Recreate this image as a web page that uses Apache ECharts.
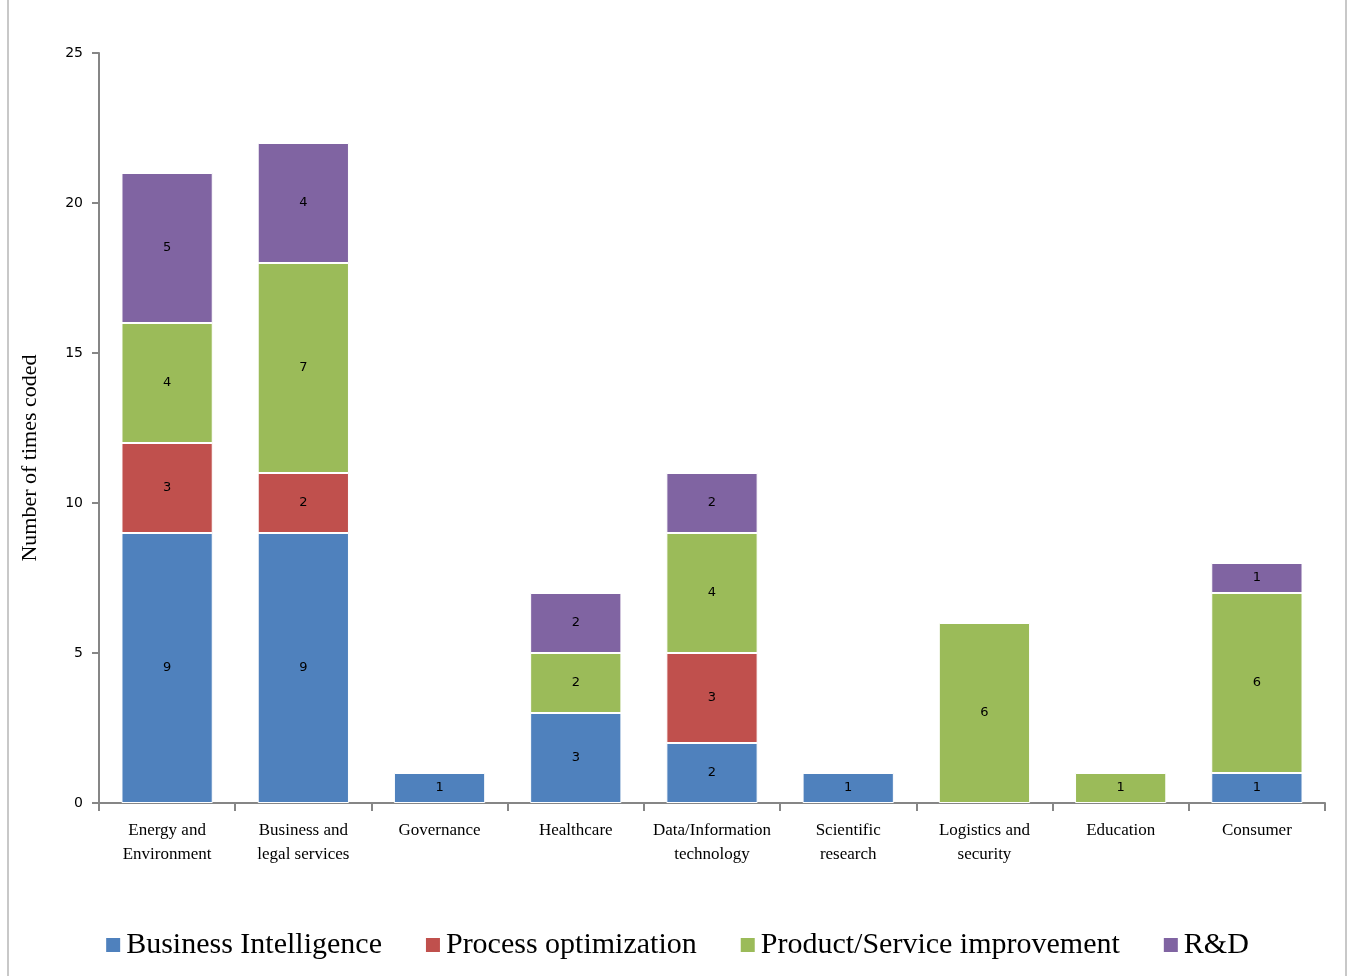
<!DOCTYPE html>
<html>
<head>
<meta charset="utf-8">
<script src="https://cdn.jsdelivr.net/npm/echarts@6/dist/echarts.min.js"></script>
<style>
  html, body { margin: 0; padding: 0; background: #fff; }
  #chart { width: 1353px; height: 976px; }
</style>
</head>
<body>
<div id="chart"></div>
<script>
// Application domains and how often each analytics purpose was coded
const categories = [
  'Energy and\nEnvironment',
  'Business and\nlegal services',
  'Governance',
  'Healthcare',
  'Data/Information\ntechnology',
  'Scientific\nresearch',
  'Logistics and\nsecurity',
  'Education',
  'Consumer'
];
const businessIntelligence = [9, 9, 1, 3, 2, 1, null, null, 1];
const processOptimization  = [3, 2, null, null, 3, null, null, null, null];
const productService       = [4, 7, null, 2, 4, null, 6, 1, 6];
const researchDevelopment  = [5, 4, null, 2, 2, null, null, null, 1];
const yTicks = { min: 0, max: 25, interval: 5 };

const serif = '"Liberation Serif", "DejaVu Serif", serif';
const sans = '"DejaVu Sans", "Liberation Sans", sans-serif';

function makeSeries(name, data, color) {
  return {
    name: name,
    type: 'bar',
    stack: 'total',
    barWidth: '67%',
    data: data,
    itemStyle: { color: color, borderColor: '#ffffff', borderWidth: 1 },
    label: {
      show: true,
      position: 'inside',
      color: '#000',
      fontFamily: sans,
      fontSize: 13,
      formatter: p => (p.value ? String(p.value) : '')
    }
  };
}

const chart = echarts.init(document.getElementById('chart'), null, { renderer: 'canvas' });
chart.setOption({
  backgroundColor: '#ffffff',
  animation: false,
  grid: { left: 99, right: 28, top: 53, bottom: 173 },
  legend: {
    bottom: 11,
    left: 'center',
    itemWidth: 16,
    itemHeight: 16,
    itemGap: 42,
    icon: 'rect',
    textStyle: { fontFamily: serif, fontSize: 30, color: '#000' },
    data: ['Business Intelligence', 'Process optimization', 'Product/Service improvement', 'R&D']
  },
  xAxis: {
    type: 'category',
    data: categories,
    boundaryGap: true,
    axisLine: { lineStyle: { color: '#868686', width: 2 } },
    axisTick: { show: true, length: 8, lineStyle: { color: '#868686', width: 2 }, alignWithLabel: false },
    axisLabel: {
      interval: 0,
      fontFamily: serif,
      fontSize: 17,
      color: '#000',
      lineHeight: 24,
      margin: 16
    }
  },
  yAxis: {
    type: 'value',
    min: yTicks.min,
    max: yTicks.max,
    interval: yTicks.interval,
    name: 'Number of times coded',
    nameLocation: 'middle',
    nameGap: 58,
    nameRotate: 90,
    nameTextStyle: { fontFamily: serif, fontSize: 22, color: '#000', padding: [0, 60, 0, 0] },
    axisLine: { show: true, lineStyle: { color: '#868686', width: 2 } },
    axisTick: { show: true, length: 7, lineStyle: { color: '#868686', width: 2 } },
    splitLine: { show: false },
    axisLabel: { fontFamily: sans, fontSize: 14, color: '#000', margin: 16 }
  },
  graphic: [
    { type: 'line', shape: { x1: 8, y1: 0, x2: 8, y2: 976 }, style: { stroke: '#c8c8c8', lineWidth: 2 } },
    { type: 'line', shape: { x1: 1346, y1: 0, x2: 1346, y2: 976 }, style: { stroke: '#c8c8c8', lineWidth: 2 } }
  ],
  series: [
    makeSeries('Business Intelligence', businessIntelligence, '#4F81BD'),
    makeSeries('Process optimization', processOptimization, '#C0504D'),
    makeSeries('Product/Service improvement', productService, '#9BBB59'),
    makeSeries('R&D', researchDevelopment, '#8064A2')
  ]
});
</script>
</body>
</html>
